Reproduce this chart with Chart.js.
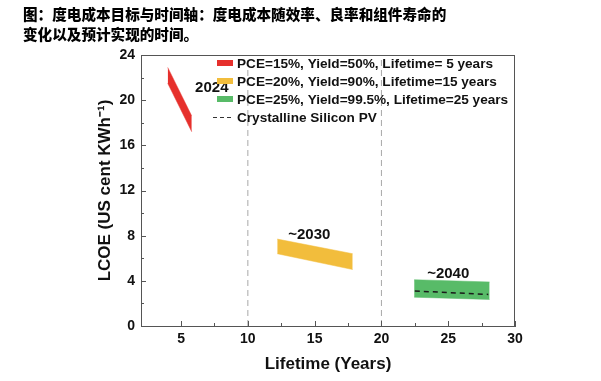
<!DOCTYPE html>
<html>
<head>
<meta charset="utf-8">
<script src="https://cdn.jsdelivr.net/npm/chart.js@4/dist/chart.umd.min.js"></script>
<style>
  html, body { margin: 0; padding: 0; background: #fff; }
  #wrap { position: relative; width: 601px; height: 381px; }
  #title { position: absolute; left: 23px; top: 4px; font-family: "Noto Sans CJK SC", sans-serif; font-weight: 900; font-size: 14.6px; line-height: 20px; color: #000; white-space: nowrap; }
  canvas { position: absolute; left: 0; top: 0; }
</style>
</head>
<body>
<div id="wrap">
  <canvas id="c" width="601" height="381"></canvas>
  <div id="title">图：度电成本目标与时间轴：度电成本随效率、良率和组件寿命的<br>变化以及预计实现的时间。</div>
</div>
<script>
// ---- data ----
const redLifetime    = [4.0, 5.8];
const redUpper       = [22.9, 18.6];
const redLower       = [21.5, 17.2];
const yellowLifetime = [12.2, 17.85];
const yellowUpper    = [7.7, 6.4];
const yellowLower    = [6.4, 5.0];
const greenLifetime  = [22.45, 28.1];
const greenUpper     = [4.1, 3.9];
const greenLower     = [2.55, 2.35];
const siLifetime     = [22.5, 28.0];
const siLcoe         = [3.1, 2.8];
const refLifetimes   = [10, 20];
const legendLabels   = [
  'PCE=15%, Yield=50%, Lifetime= 5 years',
  'PCE=20%, Yield=90%, Lifetime=15 years',
  'PCE=25%, Yield=99.5%, Lifetime=25 years',
  'Crystalline Silicon PV'
];
const yearLabels     = ['2024', '~2030', '~2040'];
const yearLabelX     = [7.3, 14.6, 25.0];
const yearLabelY     = [21.05, 8.05, 4.66];
const xTickLabels    = [5, 10, 15, 20, 25, 30];
const yTickLabels    = [0, 4, 8, 12, 16, 20, 24];

const RED = '#e6302c', YELLOW = '#f2bd3c', GREEN = '#58bb68';
const FONT = '"Liberation Sans", Arial, sans-serif';

function pts(xs, ys) { return xs.map((x, i) => ({ x: x, y: ys[i] })); }

const datasets = [];
function band(xs, up, lo, color) {
  datasets.push({ data: pts(xs, up), borderColor: color, borderWidth: 0.5, backgroundColor: color, pointRadius: 0, fill: false, order: 2 });
  datasets.push({ data: pts(xs, lo), borderColor: color, borderWidth: 0.5, backgroundColor: color, pointRadius: 0, fill: '-1', order: 2 });
}
band(redLifetime, redUpper, redLower, RED);
band(yellowLifetime, yellowUpper, yellowLower, YELLOW);
band(greenLifetime, greenUpper, greenLower, GREEN);
datasets.push({ data: pts(siLifetime, siLcoe), borderColor: '#1a1a1a', borderWidth: 1.5, borderDash: [5, 4], pointRadius: 0, fill: false, order: 0 });
refLifetimes.forEach(v => {
  datasets.push({ data: [{ x: v, y: 0 }, { x: v, y: 24 }], borderColor: '#a8a8a8', borderWidth: 1, borderDash: [6, 4], pointRadius: 0, fill: false, order: 3 });
});

const decor = {
  id: 'decor',
  afterDatasetsDraw(chart) {
    const ctx = chart.ctx, a = chart.chartArea;
    const xs = chart.scales.x, ys = chart.scales.y;
    ctx.save();
    // frame
    ctx.strokeStyle = '#555'; ctx.lineWidth = 1;
    ctx.strokeRect(a.left + 0.5, a.top + 0.5, a.right - a.left - 1, a.bottom - a.top);
    // inward ticks
    xs.ticks.forEach(t => {
      const v = t.value;
      if (Math.abs(v / 2.5 - Math.round(v / 2.5)) > 1e-6) return;
      const major = Math.abs(v / 5 - Math.round(v / 5)) < 1e-6;
      const px = Math.round(xs.getPixelForValue(v)) + 0.5;
      ctx.beginPath(); ctx.moveTo(px, a.bottom); ctx.lineTo(px, a.bottom - (major ? 5 : 3)); ctx.stroke();
    });
    ys.ticks.forEach(t => {
      const v = t.value;
      const major = v % 4 === 0;
      const py = Math.round(ys.getPixelForValue(v)) + 0.5;
      ctx.beginPath(); ctx.moveTo(a.left, py); ctx.lineTo(a.left + (major ? 5 : 3), py); ctx.stroke();
    });
    // year labels
    ctx.fillStyle = '#111';
    ctx.font = 'bold 15px ' + FONT;
    ctx.textAlign = 'center'; ctx.textBaseline = 'middle';
    yearLabels.forEach((s, i) => ctx.fillText(s, xs.getPixelForValue(yearLabelX[i]), ys.getPixelForValue(yearLabelY[i])));
    // legend
    const colors = [RED, YELLOW, GREEN];
    const lx = 217, ly = 63, dy = 18;
    ctx.font = 'bold 13.6px ' + FONT;
    ctx.textAlign = 'left';
    legendLabels.forEach((s, i) => {
      const y = ly + i * dy;
      if (i < 3) {
        ctx.fillStyle = colors[i];
        ctx.fillRect(lx, y - 3, 16, 6);
      } else {
        ctx.strokeStyle = '#333'; ctx.lineWidth = 1.2; ctx.setLineDash([4, 3]);
        ctx.beginPath(); ctx.moveTo(lx - 4, y + 0.5); ctx.lineTo(lx + 17, y + 0.5); ctx.stroke();
        ctx.setLineDash([]);
      }
      ctx.fillStyle = '#111';
      ctx.fillText(s, lx + 20, y + 1);
    });
    ctx.restore();
  }
};

new Chart(document.getElementById('c'), {
  type: 'line',
  data: { datasets: datasets },
  plugins: [decor],
  options: {
    responsive: false,
    animation: false,
    layout: { padding: { top: 55, right: 86, left: 0, bottom: 0 } },
    plugins: { legend: { display: false }, tooltip: { enabled: false }, title: { display: false } },
    scales: {
      x: {
        type: 'linear', min: 2, max: 30,
        afterFit(s) { s.height = 55; },
        grid: { display: false, drawTicks: false },
        border: { display: true, color: '#555', width: 1 },
        ticks: {
          stepSize: 2.5, autoSkip: false, maxRotation: 0, padding: 5,
          color: '#111', font: { family: FONT, size: 14, weight: 'bold' },
          callback: v => xTickLabels.includes(v) ? String(v) : ''
        },
        title: { display: true, text: 'Lifetime (Years)', color: '#111', font: { family: FONT, size: 17, weight: 'bold' }, padding: { top: 6, bottom: 6 } }
      },
      y: {
        type: 'linear', min: 0, max: 24,
        afterFit(s) { s.width = 141; },
        grid: { display: false, drawTicks: false },
        border: { display: true, color: '#555', width: 1 },
        ticks: {
          stepSize: 2, autoSkip: false, padding: 6,
          color: '#111', font: { family: FONT, size: 14, weight: 'bold' },
          callback: v => yTickLabels.includes(v) ? String(v) : ''
        },
        title: { display: true, text: 'LCOE (US cent KWh⁻¹)', color: '#111', font: { family: FONT, size: 17, weight: 'bold' }, padding: { top: 95, bottom: 95 } }
      }
    }
  }
});
</script>
</body>
</html>
